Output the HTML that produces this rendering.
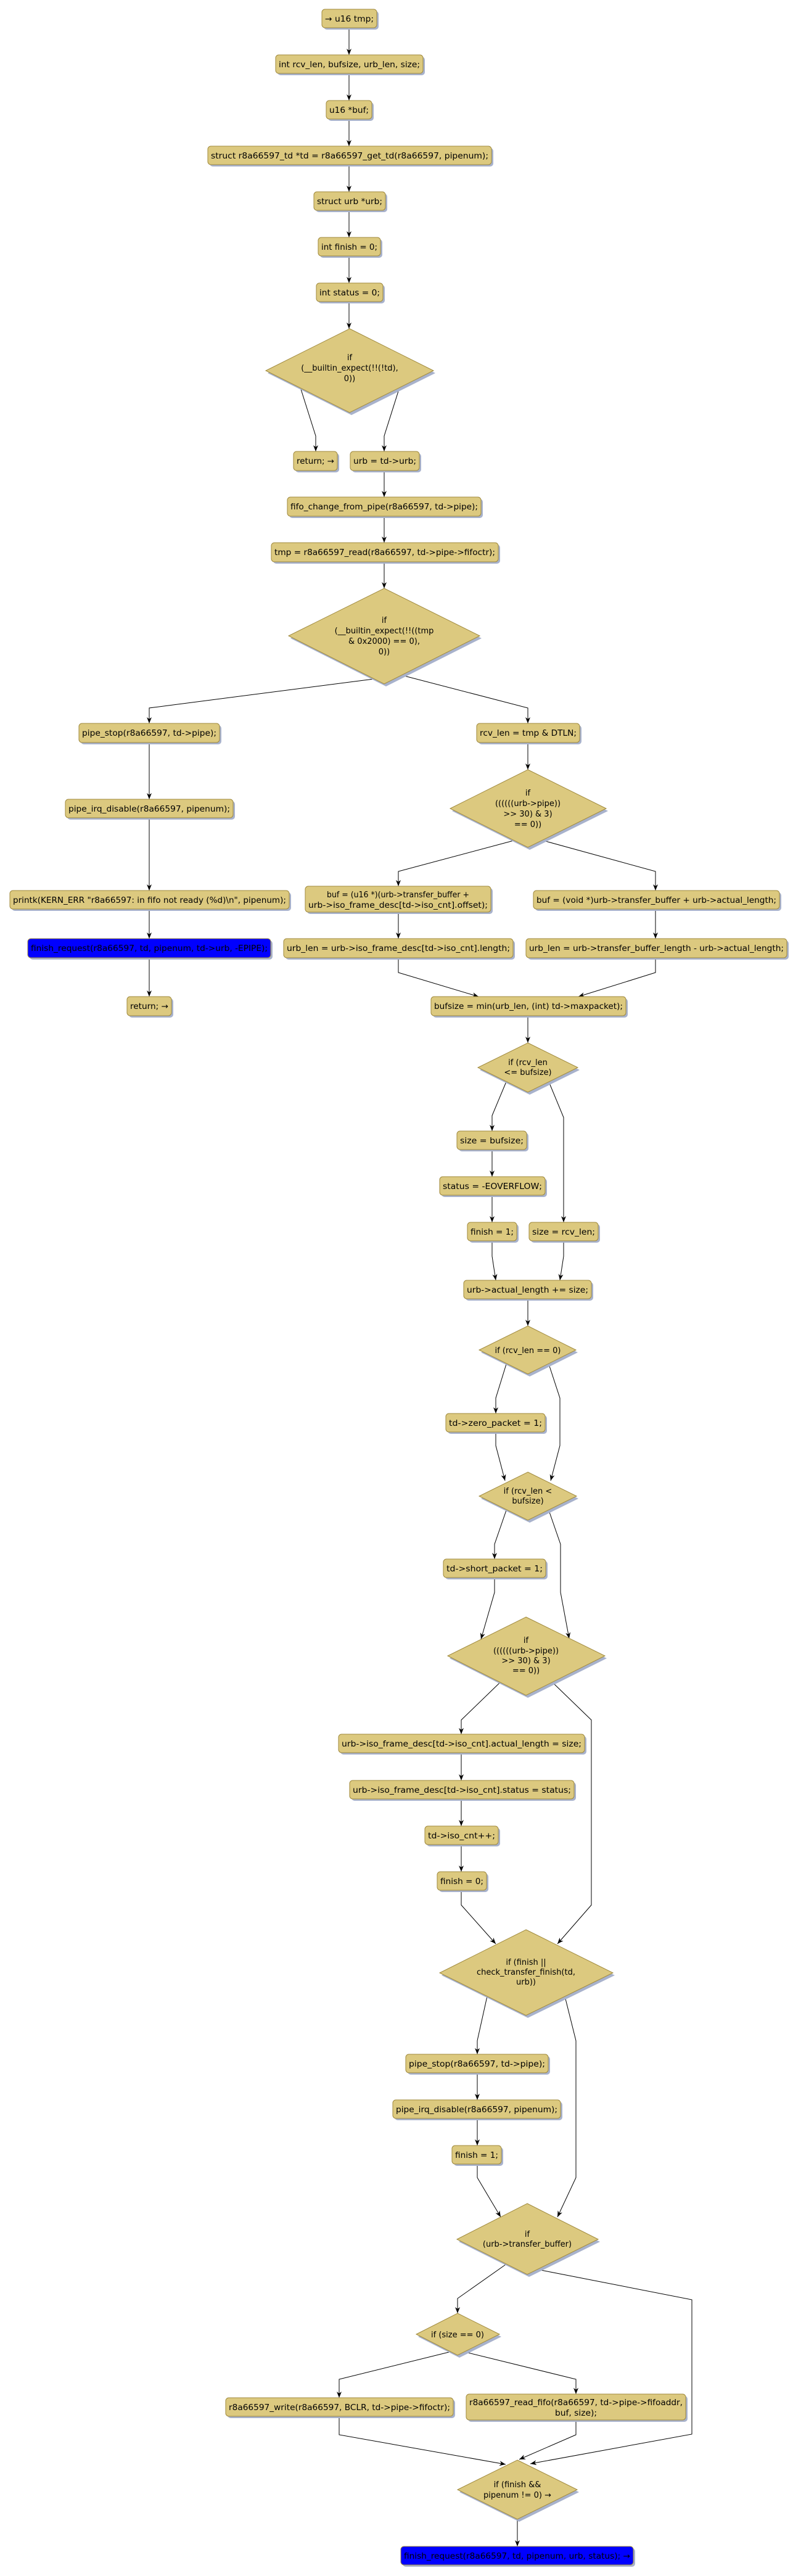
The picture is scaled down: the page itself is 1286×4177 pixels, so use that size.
<!DOCTYPE html>
<html><head><meta charset="utf-8"><style>
html,body{margin:0;padding:0;background:#fff;}
svg{display:block;}
text{font-family:"DejaVu Sans","Liberation Sans",sans-serif;font-size:13px;fill:#000;}
.b{fill:#dcc97f;stroke:#a08a3e;stroke-width:1;}
.bl{fill:#0000ff;stroke:#a08a3e;stroke-width:1;}
.s{fill:#a8b2cc;}
.c{fill:none;stroke:#000;stroke-width:1;marker-end:url(#ah);}
</style></head><body>
<svg width="1286" height="4177" viewBox="0 0 1286 4177" xmlns="http://www.w3.org/2000/svg">
<defs><marker id="ah" markerUnits="userSpaceOnUse" markerWidth="12" markerHeight="10" refX="10" refY="4" orient="auto"><path d="M0,0 L10,4 L0,8 L3,4 z" fill="#000"/></marker></defs>
<g id="boxes"></g>
<g id="conn">
<polyline class="c" points="566,45 566,89"/>
<polyline class="c" points="566,119 566,163"/>
<polyline class="c" points="566,193 566,237"/>
<polyline class="c" points="566,267 566,311"/>
<polyline class="c" points="566,341 566,385"/>
<polyline class="c" points="566,415 566,459"/>
<polyline class="c" points="566,489 566,533"/>
<polyline class="c" points="487,628 512,707 512,732"/>
<polyline class="c" points="648,628 623,707 623,732"/>
<polyline class="c" points="623,763 623,806"/>
<polyline class="c" points="623,837 623,880"/>
<polyline class="c" points="623,911 623,954"/>
<polyline class="c" points="606,1101 242,1148 242,1173"/>
<polyline class="c" points="652,1095 856,1148 856,1173"/>
<polyline class="c" points="242,1204 242,1296"/>
<polyline class="c" points="242,1326 242,1444"/>
<polyline class="c" points="242,1474 242,1522"/>
<polyline class="c" points="242,1553 242,1616"/>
<polyline class="c" points="856,1204 856,1248"/>
<polyline class="c" points="833,1363 646,1413 646,1437"/>
<polyline class="c" points="881,1363 1063,1413 1063,1444"/>
<polyline class="c" points="646,1479 646,1522"/>
<polyline class="c" points="1063,1474 1063,1522"/>
<polyline class="c" points="646,1553 646,1577 776,1616"/>
<polyline class="c" points="1063,1553 1063,1577 938,1616"/>
<polyline class="c" points="856,1647 856,1691"/>
<polyline class="c" points="821,1754 798,1809 798,1834"/>
<polyline class="c" points="890,1754 914,1812 914,1982"/>
<polyline class="c" points="798,1864 798,1908"/>
<polyline class="c" points="798,1938 798,1982"/>
<polyline class="c" points="798,2012 798,2037 804,2076"/>
<polyline class="c" points="914,2012 914,2037 908,2076"/>
<polyline class="c" points="856,2106 856,2150"/>
<polyline class="c" points="821,2212 804,2267 804,2292"/>
<polyline class="c" points="890,2212 908,2267 908,2344 893,2401"/>
<polyline class="c" points="804,2322 804,2344 819,2401"/>
<polyline class="c" points="821,2449 802,2504 802,2528"/>
<polyline class="c" points="890,2449 909,2504 909,2582 923,2657"/>
<polyline class="c" points="802,2558 802,2582 780,2658"/>
<polyline class="c" points="810,2729 748,2789 748,2812"/>
<polyline class="c" points="897,2729 959,2789 959,3089 904,3152"/>
<polyline class="c" points="748,2842 748,2887"/>
<polyline class="c" points="748,2917 748,2961"/>
<polyline class="c" points="748,2991 748,3035"/>
<polyline class="c" points="748,3065 748,3089 804,3152"/>
<polyline class="c" points="790,3237 774,3309 774,3331"/>
<polyline class="c" points="916,3237 934,3309 934,3531 904,3595"/>
<polyline class="c" points="774,3361 774,3405"/>
<polyline class="c" points="774,3435 774,3479"/>
<polyline class="c" points="774,3509 774,3531 812,3595"/>
<polyline class="c" points="820,3672 742,3727 742,3751"/>
<polyline class="c" points="872,3680 1122,3729 1122,3947 860,3995"/>
<polyline class="c" points="728,3814 550,3858 550,3888"/>
<polyline class="c" points="755,3814 934,3858 934,3882"/>
<polyline class="c" points="550,3918 550,3948 820,3996"/>
<polyline class="c" points="934,3924 934,3948 842,3988"/>
<polyline class="c" points="839,4085 839,4129"/>
</g>

<!-- boxes -->
<g>
<rect class="s" x="525" y="18" width="89" height="30" rx="5"/><rect class="b" x="522" y="15" width="89" height="30" rx="5"/><text x="566.5" y="35" text-anchor="middle" textLength="79" lengthAdjust="spacingAndGlyphs">→ u16 tmp;</text>
<rect class="s" x="450" y="92" width="239" height="30" rx="5"/><rect class="b" x="447" y="89" width="239" height="30" rx="5"/><text x="566.5" y="109" text-anchor="middle" textLength="229" lengthAdjust="spacingAndGlyphs">int rcv_len, bufsize, urb_len, size;</text>
<rect class="s" x="532" y="166" width="74" height="30" rx="5"/><rect class="b" x="529" y="163" width="74" height="30" rx="5"/><text x="566" y="183" text-anchor="middle" textLength="64" lengthAdjust="spacingAndGlyphs">u16 *buf;</text>
<rect class="s" x="340" y="240" width="460" height="30" rx="5"/><rect class="b" x="337" y="237" width="460" height="30" rx="5"/><text x="567" y="257" text-anchor="middle" textLength="450" lengthAdjust="spacingAndGlyphs">struct r8a66597_td *td = r8a66597_get_td(r8a66597, pipenum);</text>
<rect class="s" x="512" y="314" width="116" height="30" rx="5"/><rect class="b" x="509" y="311" width="116" height="30" rx="5"/><text x="567" y="331" text-anchor="middle" textLength="106" lengthAdjust="spacingAndGlyphs">struct urb *urb;</text>
<rect class="s" x="519" y="388" width="101" height="30" rx="5"/><rect class="b" x="516" y="385" width="101" height="30" rx="5"/><text x="566.5" y="405" text-anchor="middle" textLength="91" lengthAdjust="spacingAndGlyphs">int finish = 0;</text>
<rect class="s" x="516" y="462" width="108" height="30" rx="5"/><rect class="b" x="513" y="459" width="108" height="30" rx="5"/><text x="567" y="479" text-anchor="middle" textLength="98" lengthAdjust="spacingAndGlyphs">int status = 0;</text>

<polygon class="s" points="570,537 706,605 570,673 434,605"/><polygon class="b" points="567,533 703,601 567,669 431,601"/>
<text x="567" y="584" text-anchor="middle">if</text><text x="567" y="601" text-anchor="middle">(__builtin_expect(!!(!td),</text><text x="567" y="618" text-anchor="middle">0))</text>

<rect class="s" x="479" y="735" width="71" height="31" rx="5"/><rect class="b" x="476" y="732" width="71" height="31" rx="5"/><text x="511.5" y="752" text-anchor="middle" textLength="61" lengthAdjust="spacingAndGlyphs">return; →</text>
<rect class="s" x="571" y="735" width="112" height="31" rx="5"/><rect class="b" x="568" y="732" width="112" height="31" rx="5"/><text x="624" y="752" text-anchor="middle" textLength="102" lengthAdjust="spacingAndGlyphs">urb = td-&gt;urb;</text>
<rect class="s" x="469" y="809" width="314" height="31" rx="5"/><rect class="b" x="466" y="806" width="314" height="31" rx="5"/><text x="623" y="826" text-anchor="middle" textLength="304" lengthAdjust="spacingAndGlyphs">fifo_change_from_pipe(r8a66597, td-&gt;pipe);</text>
<rect class="s" x="443" y="883" width="368" height="31" rx="5"/><rect class="b" x="440" y="880" width="368" height="31" rx="5"/><text x="624" y="900" text-anchor="middle" textLength="358" lengthAdjust="spacingAndGlyphs">tmp = r8a66597_read(r8a66597, td-&gt;pipe-&gt;fifoctr);</text>

<polygon class="s" points="626,958 781,1035 626,1113 471,1035"/><polygon class="b" points="623,954 778,1031 623,1109 468,1031"/>
<text x="623" y="1010" text-anchor="middle">if</text><text x="623" y="1027" text-anchor="middle">(__builtin_expect(!!((tmp</text><text x="623" y="1044" text-anchor="middle">&amp; 0x2000) == 0),</text><text x="623" y="1061" text-anchor="middle">0))</text>

<rect class="s" x="131" y="1176" width="228" height="31" rx="5"/><rect class="b" x="128" y="1173" width="228" height="31" rx="5"/><text x="242" y="1193" text-anchor="middle" textLength="218" lengthAdjust="spacingAndGlyphs">pipe_stop(r8a66597, td-&gt;pipe);</text>
<rect class="s" x="776" y="1176" width="167" height="31" rx="5"/><rect class="b" x="773" y="1173" width="167" height="31" rx="5"/><text x="856.5" y="1193" text-anchor="middle" textLength="157" lengthAdjust="spacingAndGlyphs">rcv_len = tmp &amp; DTLN;</text>
<rect class="s" x="109" y="1299" width="272" height="30" rx="5"/><rect class="b" x="106" y="1296" width="272" height="30" rx="5"/><text x="242" y="1316" text-anchor="middle" textLength="262" lengthAdjust="spacingAndGlyphs">pipe_irq_disable(r8a66597, pipenum);</text>
<rect class="s" x="19" y="1447" width="453" height="30" rx="5"/><rect class="b" x="16" y="1444" width="453" height="30" rx="5"/><text x="242.5" y="1464" text-anchor="middle" textLength="443" lengthAdjust="spacingAndGlyphs">printk(KERN_ERR "r8a66597: in fifo not ready (%d)\n", pipenum);</text>
<rect class="s" x="48" y="1525" width="394" height="31" rx="5"/><rect class="bl" x="45" y="1522" width="394" height="31" rx="5"/><text x="242" y="1542" text-anchor="middle" textLength="384" lengthAdjust="spacingAndGlyphs">finish_request(r8a66597, td, pipenum, td-&gt;urb, -EPIPE);</text>
<rect class="s" x="209" y="1619" width="72" height="31" rx="5"/><rect class="b" x="206" y="1616" width="72" height="31" rx="5"/><text x="242" y="1636" text-anchor="middle" textLength="62" lengthAdjust="spacingAndGlyphs">return; →</text>

<polygon class="s" points="859,1252 986,1315 859,1378 733,1315"/><polygon class="b" points="856,1248 983,1311 856,1374 730,1311"/>
<text x="856" y="1290" text-anchor="middle">if</text><text x="856" y="1307" text-anchor="middle">((((((urb-&gt;pipe))</text><text x="856" y="1324" text-anchor="middle">&gt;&gt; 30) &amp; 3)</text><text x="856" y="1341" text-anchor="middle">== 0))</text>

<rect class="s" x="498" y="1440" width="301" height="42" rx="5"/><rect class="b" x="495" y="1437" width="301" height="42" rx="5"/><text x="645.5" y="1455" text-anchor="middle" textLength="231" lengthAdjust="spacingAndGlyphs">buf = (u16 *)(urb-&gt;transfer_buffer +</text><text x="645.5" y="1472" text-anchor="middle" textLength="291" lengthAdjust="spacingAndGlyphs">urb-&gt;iso_frame_desc[td-&gt;iso_cnt].offset);</text>
<rect class="s" x="868" y="1447" width="399" height="30" rx="5"/><rect class="b" x="865" y="1444" width="399" height="30" rx="5"/><text x="1064.5" y="1464" text-anchor="middle" textLength="389" lengthAdjust="spacingAndGlyphs">buf = (void *)urb-&gt;transfer_buffer + urb-&gt;actual_length;</text>
<rect class="s" x="463" y="1525" width="372" height="31" rx="5"/><rect class="b" x="460" y="1522" width="372" height="31" rx="5"/><text x="646" y="1542" text-anchor="middle" textLength="362" lengthAdjust="spacingAndGlyphs">urb_len = urb-&gt;iso_frame_desc[td-&gt;iso_cnt].length;</text>
<rect class="s" x="856" y="1525" width="423" height="31" rx="5"/><rect class="b" x="853" y="1522" width="423" height="31" rx="5"/><text x="1064.5" y="1542" text-anchor="middle" textLength="413" lengthAdjust="spacingAndGlyphs">urb_len = urb-&gt;transfer_buffer_length - urb-&gt;actual_length;</text>
<rect class="s" x="702" y="1619" width="316" height="31" rx="5"/><rect class="b" x="699" y="1616" width="316" height="31" rx="5"/><text x="857" y="1636" text-anchor="middle" textLength="306" lengthAdjust="spacingAndGlyphs">bufsize = min(urb_len, (int) td-&gt;maxpacket);</text>

<polygon class="s" points="859,1695 940,1735 859,1775 778,1735"/><polygon class="b" points="856,1691 937,1731 856,1771 775,1731"/>
<text x="856" y="1727" text-anchor="middle">if (rcv_len</text><text x="856" y="1743" text-anchor="middle">&lt;= bufsize)</text>

<rect class="s" x="744" y="1837" width="113" height="30" rx="5"/><rect class="b" x="741" y="1834" width="113" height="30" rx="5"/><text x="797.5" y="1854" text-anchor="middle" textLength="103" lengthAdjust="spacingAndGlyphs">size = bufsize;</text>
<rect class="s" x="716" y="1911" width="171" height="30" rx="5"/><rect class="b" x="713" y="1908" width="171" height="30" rx="5"/><text x="798.5" y="1928" text-anchor="middle" textLength="161" lengthAdjust="spacingAndGlyphs">status = -EOVERFLOW;</text>
<rect class="s" x="761" y="1985" width="80" height="30" rx="5"/><rect class="b" x="758" y="1982" width="80" height="30" rx="5"/><text x="798" y="2002" text-anchor="middle" textLength="70" lengthAdjust="spacingAndGlyphs">finish = 1;</text>
<rect class="s" x="861" y="1985" width="112" height="30" rx="5"/><rect class="b" x="858" y="1982" width="112" height="30" rx="5"/><text x="914" y="2002" text-anchor="middle" textLength="102" lengthAdjust="spacingAndGlyphs">size = rcv_len;</text>
<rect class="s" x="755" y="2079" width="207" height="30" rx="5"/><rect class="b" x="752" y="2076" width="207" height="30" rx="5"/><text x="855.5" y="2096" text-anchor="middle" textLength="197" lengthAdjust="spacingAndGlyphs">urb-&gt;actual_length += size;</text>

<polygon class="s" points="859,2154 937,2193 859,2232 780,2193"/><polygon class="b" points="856,2150 934,2189 856,2228 777,2189"/>
<text x="856" y="2194" text-anchor="middle">if (rcv_len == 0)</text>

<rect class="s" x="726" y="2295" width="161" height="30" rx="5"/><rect class="b" x="723" y="2292" width="161" height="30" rx="5"/><text x="803.5" y="2312" text-anchor="middle" textLength="151" lengthAdjust="spacingAndGlyphs">td-&gt;zero_packet = 1;</text>

<polygon class="s" points="859,2391 938,2430 859,2469 780,2430"/><polygon class="b" points="856,2387 935,2426 856,2465 777,2426"/>
<text x="856" y="2422" text-anchor="middle">if (rcv_len &lt;</text><text x="856" y="2438" text-anchor="middle">bufsize)</text>

<rect class="s" x="722" y="2531" width="166" height="30" rx="5"/><rect class="b" x="719" y="2528" width="166" height="30" rx="5"/><text x="802" y="2548" text-anchor="middle" textLength="156" lengthAdjust="spacingAndGlyphs">td-&gt;short_packet = 1;</text>

<polygon class="s" points="856,2626 984,2689 856,2753 729,2689"/><polygon class="b" points="853,2622 981,2685 853,2749 726,2685"/>
<text x="853" y="2664" text-anchor="middle">if</text><text x="853" y="2681" text-anchor="middle">((((((urb-&gt;pipe))</text><text x="853" y="2697" text-anchor="middle">&gt;&gt; 30) &amp; 3)</text><text x="853" y="2713" text-anchor="middle">== 0))</text>

<rect class="s" x="552" y="2815" width="399" height="30" rx="5"/><rect class="b" x="549" y="2812" width="399" height="30" rx="5"/><text x="748.5" y="2832" text-anchor="middle" textLength="389" lengthAdjust="spacingAndGlyphs">urb-&gt;iso_frame_desc[td-&gt;iso_cnt].actual_length = size;</text>
<rect class="s" x="570" y="2890" width="364" height="30" rx="5"/><rect class="b" x="567" y="2887" width="364" height="30" rx="5"/><text x="749" y="2907" text-anchor="middle" textLength="354" lengthAdjust="spacingAndGlyphs">urb-&gt;iso_frame_desc[td-&gt;iso_cnt].status = status;</text>
<rect class="s" x="692" y="2964" width="119" height="30" rx="5"/><rect class="b" x="689" y="2961" width="119" height="30" rx="5"/><text x="748.5" y="2981" text-anchor="middle" textLength="109" lengthAdjust="spacingAndGlyphs">td-&gt;iso_cnt++;</text>
<rect class="s" x="712" y="3038" width="80" height="30" rx="5"/><rect class="b" x="709" y="3035" width="80" height="30" rx="5"/><text x="749" y="3055" text-anchor="middle" textLength="70" lengthAdjust="spacingAndGlyphs">finish = 0;</text>

<polygon class="s" points="856,3133 997,3203 856,3272 716,3203"/><polygon class="b" points="853,3129 994,3199 853,3268 713,3199"/>
<text x="853" y="3186" text-anchor="middle">if (finish ||</text><text x="853" y="3202" text-anchor="middle">check_transfer_finish(td,</text><text x="853" y="3218" text-anchor="middle">urb))</text>

<rect class="s" x="661" y="3334" width="231" height="30" rx="5"/><rect class="b" x="658" y="3331" width="231" height="30" rx="5"/><text x="773.5" y="3351" text-anchor="middle" textLength="221" lengthAdjust="spacingAndGlyphs">pipe_stop(r8a66597, td-&gt;pipe);</text>
<rect class="s" x="640" y="3408" width="272" height="30" rx="5"/><rect class="b" x="637" y="3405" width="272" height="30" rx="5"/><text x="773" y="3425" text-anchor="middle" textLength="262" lengthAdjust="spacingAndGlyphs">pipe_irq_disable(r8a66597, pipenum);</text>
<rect class="s" x="736" y="3482" width="80" height="30" rx="5"/><rect class="b" x="733" y="3479" width="80" height="30" rx="5"/><text x="773" y="3499" text-anchor="middle" textLength="70" lengthAdjust="spacingAndGlyphs">finish = 1;</text>

<polygon class="s" points="858,3577 973,3635 858,3692 744,3635"/><polygon class="b" points="855,3573 970,3631 855,3688 741,3631"/>
<text x="855" y="3627" text-anchor="middle">if</text><text x="855" y="3643" text-anchor="middle">(urb-&gt;transfer_buffer)</text>

<polygon class="s" points="745,3755 813,3789 745,3823 678,3789"/><polygon class="b" points="742,3751 810,3785 742,3819 675,3785"/>
<text x="742" y="3790" text-anchor="middle">if (size == 0)</text>

<rect class="s" x="369" y="3891" width="369" height="30" rx="5"/><rect class="b" x="366" y="3888" width="369" height="30" rx="5"/><text x="550.5" y="3908" text-anchor="middle" textLength="359" lengthAdjust="spacingAndGlyphs">r8a66597_write(r8a66597, BCLR, td-&gt;pipe-&gt;fifoctr);</text>
<rect class="s" x="759" y="3885" width="356" height="42" rx="5"/><rect class="b" x="756" y="3882" width="356" height="42" rx="5"/><text x="934" y="3900" text-anchor="middle" textLength="346" lengthAdjust="spacingAndGlyphs">r8a66597_read_fifo(r8a66597, td-&gt;pipe-&gt;fifoaddr,</text><text x="934" y="3917" text-anchor="middle" textLength="68" lengthAdjust="spacingAndGlyphs">buf, size);</text>

<polygon class="s" points="842,3993 939,4041 842,4089 745,4041"/><polygon class="b" points="839,3989 936,4037 839,4085 742,4037"/>
<text x="839" y="4033" text-anchor="middle">if (finish &amp;&amp;</text><text x="839" y="4050" text-anchor="middle">pipenum != 0) →</text>

<rect class="s" x="653" y="4132" width="377" height="30" rx="5"/><rect class="bl" x="650" y="4129" width="377" height="30" rx="5"/><text x="838.5" y="4149" text-anchor="middle" textLength="367" lengthAdjust="spacingAndGlyphs">finish_request(r8a66597, td, pipenum, urb, status); →</text>
</g>
</svg>
</body></html>
